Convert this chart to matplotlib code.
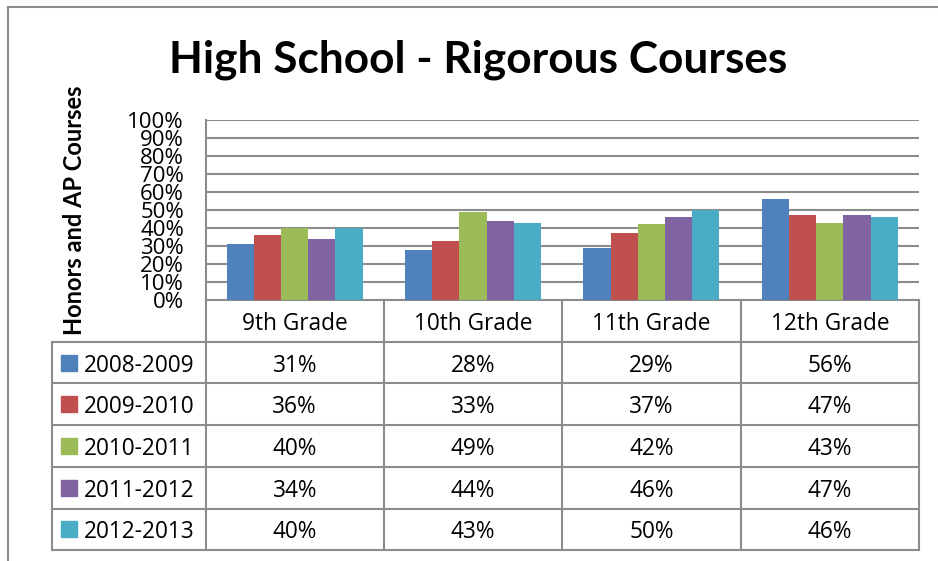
import matplotlib
matplotlib.use("Agg")
import matplotlib.pyplot as plt
import numpy as np

# datos
grados = ["9th Grade", "10th Grade", "11th Grade", "12th Grade"]
anios = ["2008-2009", "2009-2010", "2010-2011", "2011-2012", "2012-2013"]
v_2008 = [31, 28, 29, 56]
v_2009 = [36, 33, 37, 47]
v_2010 = [40, 49, 42, 43]
v_2011 = [34, 44, 46, 47]
v_2012 = [40, 43, 50, 46]
series = [v_2008, v_2009, v_2010, v_2011, v_2012]
colores = ["#4F81BD", "#C0504D", "#9BBB59", "#8064A2", "#4BACC6"]
yticks = [0, 10, 20, 30, 40, 50, 60, 70, 80, 90, 100]

plt.rcParams['font.family'] = ['Open Sans', 'DejaVu Sans']
gris = "#8C8C8C"

W, H = 938, 561
fig = plt.figure(figsize=(W / 100, H / 100), dpi=100)

# capa de fondo en pixeles
fondo = fig.add_axes([0, 0, 1, 1])
fondo.set_xlim(0, W)
fondo.set_ylim(H, 0)
fondo.axis("off")

# marco exterior
fondo.plot([8, 8], [7, H + 5], color=gris, lw=1.5)
fondo.plot([8, W + 5], [7, 7], color=gris, lw=1.5)

# area del grafico
x0, x1 = 205.5, 919
y_top, y_bot = 120, 300
ax = fig.add_axes([x0 / W, 1 - y_bot / H, (x1 - x0) / W, (y_bot - y_top) / H])
ax.set_xlim(-0.5, len(grados) - 0.5)
ax.set_ylim(0, 100)
ax.set_yticks(yticks)
ax.set_yticklabels([f"{t}%" for t in yticks], fontsize=16)
ax.tick_params(axis="y", length=0, pad=15.5)
ax.set_xticks([])
ax.grid(axis="y", color=gris, lw=1.5)
ax.set_axisbelow(True)
for s in ["top", "right"]:
    ax.spines[s].set_visible(False)
for s in ["left", "bottom"]:
    ax.spines[s].set_color(gris)
    ax.spines[s].set_linewidth(1.5)

n = len(series)
ancho = 0.762 / n
x = np.arange(len(grados))
for i, (vals, c) in enumerate(zip(series, colores)):
    ax.bar(x + (i - (n - 1) / 2) * ancho, vals, width=ancho, color=c, zorder=3)

# titulo y eje
fig.text(478 / W, 1 - 60 / H, "High School - Rigorous Courses", ha="center",
         va="center", fontsize=31.8, fontweight="bold", family="Lato")
fig.text(75 / W, 1 - 210 / H, "Honors and AP Courses", rotation=90, ha="center",
         va="center", fontsize=17, fontweight="bold", family="Lato")

# tabla de datos
col_x = [x0 + (x1 - x0) / len(grados) * k for k in range(len(grados) + 1)]
t_left = 51.7
row_y = [300 + 41.7 * k for k in range(len(anios) + 2)]
for cx in col_x:
    fondo.plot([cx, cx], [row_y[0], row_y[-1]], color=gris, lw=1.5)
fondo.plot([t_left, t_left], [row_y[1], row_y[-1]], color=gris, lw=1.5)
for ry in row_y[1:]:
    fondo.plot([t_left, x1], [ry, ry], color=gris, lw=1.5)

fs = 16.3
for j, g in enumerate(grados):
    fondo.text((col_x[j] + col_x[j + 1]) / 2, (row_y[0] + row_y[1]) / 2 + 3.5, g,
               ha="center", va="center", fontsize=fs)
for i, (a, vals, c) in enumerate(zip(anios, series, colores)):
    yc = (row_y[i + 1] + row_y[i + 2]) / 2
    fondo.add_patch(plt.Rectangle((60.7, yc - 8), 16, 16, color=c))
    fondo.text(84, yc + 3, a, ha="left", va="center", fontsize=fs)
    for j, v in enumerate(vals):
        fondo.text((col_x[j] + col_x[j + 1]) / 2, yc + 3, f"{v}%",
                   ha="center", va="center", fontsize=fs)

fig.savefig("out.png", dpi=100)
